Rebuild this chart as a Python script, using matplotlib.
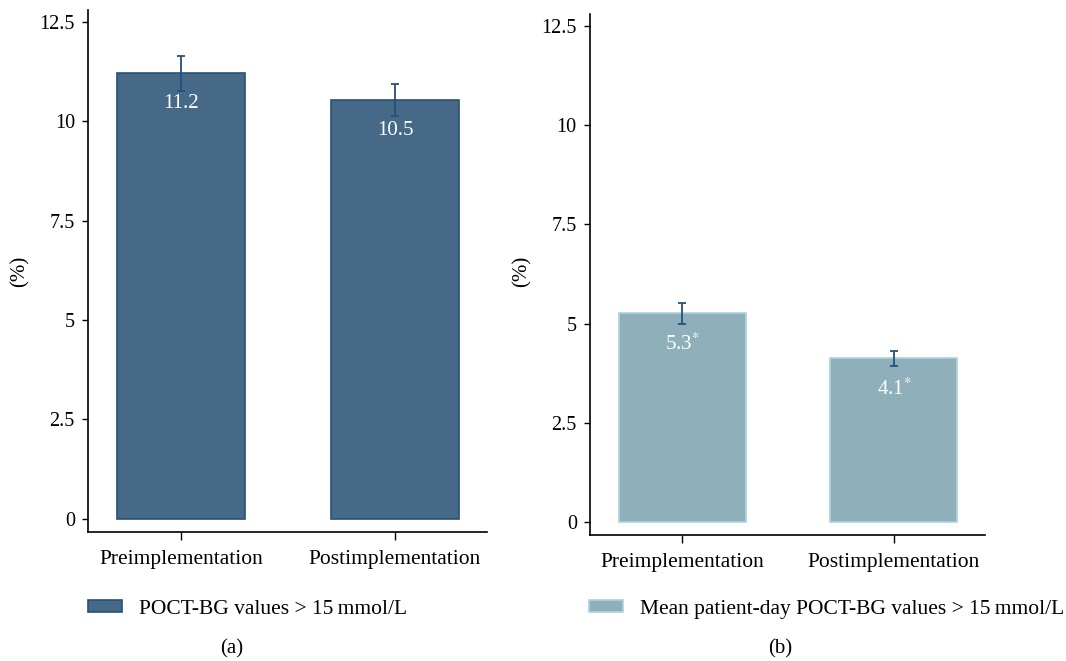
import matplotlib.pyplot as plt
from matplotlib.patches import Patch

plt.rcParams['font.family'] = ['Liberation Serif', 'DejaVu Serif']
plt.rcParams['mathtext.fontset'] = 'stix'

categories = ["Preimplementation", "Postimplementation"]

# panel (a)
values_a = [11.2, 10.53]
errors_a = [0.44, 0.41]
labels_a = ["11.2", "10.5"]
legend_a = "POCT-BG values > 15\u2009mmol/L"

# panel (b)
values_b = [5.26, 4.12]
errors_b = [0.27, 0.19]
labels_b = ["5.3$^{*}$", "4.1$^{*}$"]
legend_b = "Mean patient-day POCT-BG values > 15\u2009mmol/L"

yticks = [0, 2.5, 5, 7.5, 10, 12.5]
yticklabels = ["0", "2.5", "5", "7.5", "10", "12.5"]

err_color = "#24507a"

fig = plt.figure(figsize=(10.66, 6.61), dpi=100)
ax_a = fig.add_axes([0.0826, 0.1952, 0.3742, 0.790])
ax_b = fig.add_axes([0.5535, 0.1906, 0.3705, 0.788])

panels = [
    (ax_a, values_a, errors_a, labels_a, legend_a, "#456987", "#2a5173", "(a)", 0.0826, 0.019, 0.217),
    (ax_b, values_b, errors_b, labels_b, legend_b, "#8fb0ba", "#acd3e0", "(b)", 0.5525, 0.490, 0.732),
]

for ax, vals, errs, labs, leg, fc, ec, tag, legx, ylx, tagx in panels:
    x = range(len(categories))
    bars = ax.bar(x, vals, width=0.6, color=fc, edgecolor=ec, linewidth=1.2)
    ax.errorbar(x, vals, yerr=errs, fmt="none", ecolor=err_color,
                elinewidth=1.3, capsize=3, capthick=1.3)
    for b, lab in zip(bars, labs):
        ax.annotate(lab, (b.get_x() + b.get_width() / 2, b.get_height()),
                    xytext=(0, -22), textcoords="offset points",
                    ha="center", va="center", color="white", fontsize=15)

    ax.set_xlim(-0.435, 1.43)
    ax.set_ylim(-0.33, 12.8)
    ax.set_xticks(list(x))
    ax.set_xticklabels(categories, fontsize=15.5)
    ax.set_yticks(yticks)
    ax.set_yticklabels(yticklabels, fontsize=14.5)
    ax.tick_params(axis="y", length=4.5, width=1, pad=5)
    ax.tick_params(axis="x", length=6, width=1, pad=7)
    for s in ["top", "right"]:
        ax.spines[s].set_visible(False)
    for s in ["left", "bottom"]:
        ax.spines[s].set_linewidth(1.2)

    fig.text(ylx, 0.59, "(%)", rotation=90, ha="center", va="center", fontsize=15)

    handle = Patch(facecolor=fc, edgecolor=ec, linewidth=1.2)
    ax.legend([handle], [leg], loc="center left",
              bbox_to_anchor=(legx, 0.078), bbox_transform=fig.transFigure,
              frameon=False, borderpad=0, borderaxespad=0,
              handlelength=1.6, handleheight=0.45, handletextpad=0.75,
              fontsize=15.5)

    fig.text(tagx, 0.018, tag, ha="center", va="center", fontsize=15)

plt.savefig("out.png", dpi=100)
